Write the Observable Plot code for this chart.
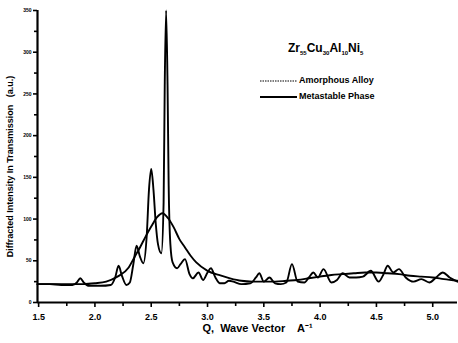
<!DOCTYPE html>
<html>
<head>
<meta charset="utf-8">
<script src="https://cdn.jsdelivr.net/npm/d3@7"></script>
<script src="https://cdn.jsdelivr.net/npm/@observablehq/plot@0.6"></script>
<style>
  html, body { margin: 0; padding: 0; background: #fff; }
  #wrap { position: relative; width: 458px; height: 343px; font-family: "Liberation Sans", Arial, sans-serif; font-weight: bold; color: #000; }
  #wrap svg text { font-weight: bold; }
  .leg { position: absolute; white-space: nowrap; line-height: 1; }
  .leg sub { font-size: 6px; vertical-align: -3px; }
</style>
</head>
<body>
<div id="wrap">
  <div class="leg" id="title" style="left:288px; top:42px; font-size:12px;">Zr<sub>55</sub>Cu<sub>30</sub>Al<sub>10</sub>Ni<sub>5</sub></div>
  <svg class="leg" style="left:260px; top:76px;" width="40" height="26">
    <line x1="0" x2="37" y1="5" y2="5" stroke="#000" stroke-width="1.2" stroke-dasharray="1.5,1"/>
    <line x1="0" x2="37" y1="21" y2="21" stroke="#000" stroke-width="1.8"/>
  </svg>
  <div class="leg" style="left:299px; top:76px; font-size:9px;">Amorphous Alloy</div>
  <div class="leg" style="left:299px; top:92px; font-size:9px;">Metastable Phase</div>
</div>
<script>
// Amorphous alloy (smooth broad curve)
const qAmorph = [1.49, 1.6, 1.7, 1.8, 1.9, 2.0, 2.1, 2.2, 2.3, 2.35, 2.4, 2.45, 2.5, 2.55, 2.6, 2.65, 2.7, 2.75, 2.8, 2.85, 2.9, 3.0, 3.1, 3.2, 3.3, 3.4, 3.5, 3.6, 3.7, 3.8, 3.9, 4.0, 4.1, 4.2, 4.3, 4.4, 4.5, 4.6, 4.7, 4.8, 4.9, 5.0, 5.1, 5.22];
const iAmorph = [22, 22, 22, 22, 22, 23, 25, 31, 42, 54, 66, 79, 91, 102, 107, 101, 90, 76, 66, 56, 48, 38, 33, 29, 26, 25, 25, 25, 26, 27, 29, 31, 33, 34, 35, 36, 36, 35, 34, 32, 31, 30, 28, 26];

// Metastable phase (sharp peaks)
const qMeta = [1.49, 1.6, 1.7, 1.8, 1.84, 1.87, 1.9, 1.95, 2.05, 2.14, 2.18, 2.21, 2.24, 2.28, 2.31, 2.34, 2.37, 2.40, 2.43, 2.46, 2.48, 2.5, 2.52, 2.54, 2.56, 2.59, 2.61, 2.62, 2.632, 2.645, 2.655, 2.67, 2.69, 2.73, 2.76, 2.8, 2.84, 2.87, 2.92, 2.96, 3.0, 3.03, 3.07, 3.11, 3.15, 3.19, 3.23, 3.3, 3.38, 3.43, 3.46, 3.5, 3.55, 3.6, 3.65, 3.7, 3.75, 3.8, 3.86, 3.9, 3.94, 3.98, 4.03, 4.1, 4.15, 4.2, 4.26, 4.32, 4.38, 4.45, 4.52, 4.56, 4.6, 4.65, 4.7, 4.76, 4.83, 4.9, 4.97, 5.03, 5.09, 5.15, 5.22];
const iMeta = [22, 22, 21, 21, 24, 29, 24, 20, 20, 21, 30, 44, 32, 21, 24, 45, 68, 55, 47, 80, 135, 160, 135, 95, 70, 59, 120, 260, 350, 260, 140, 70, 48, 41, 46, 52, 34, 29, 36, 27, 36, 41, 30, 23, 23, 26, 25, 22, 23, 30, 35, 25, 30, 23, 22, 24, 46, 25, 24, 30, 36, 30, 40, 24, 27, 35, 30, 30, 31, 38, 25, 33, 44, 36, 40, 30, 25, 28, 24, 30, 36, 30, 25];

const xDomain = [1.49, 5.22];
const yDomain = [0, 350];
const xTicks = [1.5, 2.0, 2.5, 3.0, 3.5, 4.0, 4.5, 5.0];
const xMinor = [1.75, 2.25, 2.75, 3.25, 3.75, 4.25, 4.75, 5.25].filter(v => v <= xDomain[1]);
const yTicks = [0, 50, 100, 150, 200, 250, 300, 350];
const yMinor = [25, 75, 125, 175, 225, 275, 325];
const xLabel = "Q,  Wave Vector    A⁻¹";
const yLabel = "Diffracted Intensity In Transmission   (a.u.)";

const amorph = qAmorph.map((q, k) => ({q, i: iAmorph[k]}));
const meta = qMeta.map((q, k) => ({q, i: iMeta[k]}));

const chart = Plot.plot({
  width: 458,
  height: 343,
  marginTop: 10,
  marginBottom: 41,
  marginLeft: 37,
  marginRight: 1,
  x: {domain: xDomain},
  y: {domain: yDomain},
  style: {fontFamily: "'Liberation Sans', Arial, sans-serif", fontWeight: "bold", background: "transparent", color: "#000"},
  marks: [
    Plot.axisX({ticks: xTicks, tickFormat: d3.format(".1f"), tickSize: 5, tickPadding: 6, fontSize: 9, fontWeight: "bold", strokeWidth: 1.6, label: null}),
    Plot.axisX({ticks: xMinor, tickFormat: () => "", tickSize: 4, strokeWidth: 1.6, label: null}),
    Plot.text([xLabel], {frameAnchor: "bottom", dx: 10, dy: 29, fontSize: 11, fontWeight: "bold"}),
    Plot.axisY({ticks: yTicks, tickSize: 4, tickPadding: 2, fontSize: 5, fontWeight: "bold", strokeWidth: 1.6, label: null}),
    Plot.axisY({ticks: yMinor, tickFormat: () => "", tickSize: 3, strokeWidth: 1.6, label: null}),
    Plot.text([yLabel], {frameAnchor: "left", textAnchor: "middle", rotate: -90, dx: -27, dy: 10, fontSize: 9, fontWeight: "bold"}),
    Plot.ruleY([yDomain[0]], {strokeWidth: 2.2}),
    Plot.ruleX([xDomain[0]], {strokeWidth: 2.2}),
    Plot.line(amorph, {x: "q", y: "i", curve: "monotone-x", stroke: "#000", strokeWidth: 1.9}),
    Plot.line(meta, {x: "q", y: "i", curve: "monotone-x", stroke: "#000", strokeWidth: 1.9})
  ]
});
document.getElementById("wrap").prepend(chart);
</script>
</body>
</html>
